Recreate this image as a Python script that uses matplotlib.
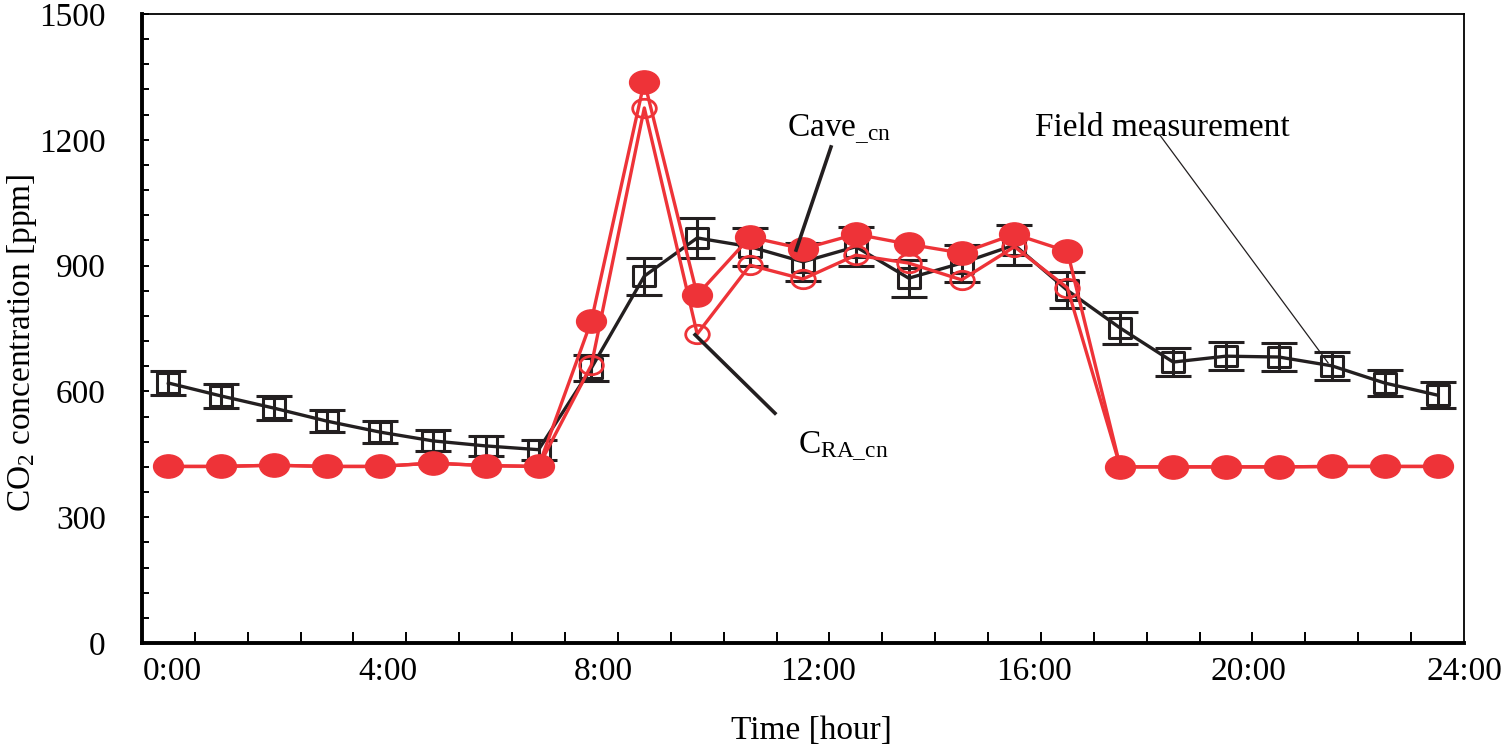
"""
CO2 concentration over one day: field measurement vs. two model results
"""

import matplotlib
matplotlib.use("Agg")
import matplotlib.pyplot as plt
from matplotlib.path import Path
from matplotlib.transforms import Affine2D
from matplotlib.ticker import FixedLocator, MultipleLocator

plt.rcParams["font.family"] = ["Liberation Serif", "DejaVu Serif"]
plt.rcParams["mathtext.fontset"] = "custom"
plt.rcParams["mathtext.rm"] = "Liberation Serif"
plt.rcParams["mathtext.it"] = "Liberation Serif:italic"

# data
hours = list(range(25))
field = [620, 589, 560, 529, 503, 482, 470, 461, 656, 875, 966, 945, 909,
         945, 870, 906, 949, 841, 751, 670, 684, 682, 661, 620, 591]
field_err = [29, 29, 28, 27, 26, 25, 24, 24, 31, 44, 48, 45, 45,
             46, 44, 44, 47, 43, 38, 34, 34, 34, 33, 32, 31]
cave_cn = [421, 421, 424, 421, 421, 429, 423, 421, 769, 1339, 830, 968, 940,
           975, 951, 930, 975, 934, 420, 420, 420, 420, 421, 421, 421]
c_ra_cn = [421, 421, 424, 421, 421, 429, 423, 421, 663, 1276, 737, 901, 868,
           925, 906, 866, 945, 847, 420, 420, 420, 420, 421, 421, 421]

x_labels = ["0:00", "4:00", "8:00", "12:00", "16:00", "20:00", "24:00"]
x_label_pos = [0.08, 4.15, 8.22, 12.29, 16.36, 20.43, 24.5]

RED = "#ee3338"
BLACK = "#231f20"

# slightly flattened markers like the original
ellipse = Path.unit_circle().transformed(Affine2D().scale(1.0, 0.78))
rect = Path([(-1, -0.87), (1, -0.87), (1, 0.87), (-1, 0.87), (-1, -0.87)],
            [Path.MOVETO, Path.LINETO, Path.LINETO, Path.LINETO, Path.CLOSEPOLY])

fig = plt.figure(figsize=(15.02, 7.5), dpi=100)
ax = fig.add_axes([0.0945, 0.1427, 0.8802, 0.8386])

# field measurement with error bars
ax.errorbar(hours, field, yerr=field_err, color=BLACK, lw=2.4,
            marker=rect, ms=16, mfc="none", mec=BLACK, mew=2.2,
            ecolor=BLACK, elinewidth=2.2, capsize=13, capthick=3.2, zorder=2)

# C_RA_cn: open circles
ax.plot(hours, c_ra_cn, color=RED, lw=2.4, marker=ellipse, ms=17,
        mfc="none", mec=RED, mew=2.0, zorder=3)

# Cave_cn: filled circles
ax.plot(hours, cave_cn, color=RED, lw=2.4, marker=ellipse, ms=21.5,
        mfc=RED, mec=RED, zorder=4)

ax.set_xlim(-0.5, 24.5)
ax.set_ylim(0, 1500)

ax.xaxis.set_major_locator(FixedLocator(x_label_pos))
ax.set_xticklabels(x_labels)
ax.xaxis.set_minor_locator(FixedLocator([h + 0.5 for h in range(24)]))
ax.tick_params(axis="x", which="major", length=0, pad=10, labelsize=24)
ax.tick_params(axis="x", which="minor", direction="in", length=8, width=1.4)

ax.yaxis.set_major_locator(MultipleLocator(300))
ax.yaxis.set_minor_locator(MultipleLocator(60))
ax.tick_params(axis="y", which="both", direction="in", length=5, width=1.4)
ax.tick_params(axis="y", which="major", pad=26, labelsize=24)

for side in ["left", "bottom"]:
    ax.spines[side].set_linewidth(2.8)
for side in ["top", "right"]:
    ax.spines[side].set_linewidth(1.3)

fig.text(0.0146, 0.543, "CO$_2$ concentration [ppm]", rotation=90,
         ha="center", va="center", fontsize=24)
fig.text(0.540, 0.0147, "Time [hour]", ha="center", va="baseline", fontsize=24)

# labels with leader lines
ax.text(11.70, 1209, r"Cave$_{\_\mathrm{cn}}$", fontsize=24, va="baseline")
ax.plot([12.53, 11.87], [1183, 937], color=BLACK, lw=2.6, zorder=5)

ax.text(11.91, 453, r"C$_{\mathrm{RA\_cn}}$", fontsize=24, va="baseline")
ax.plot([9.96, 11.47], [735, 548], color=BLACK, lw=2.6, zorder=5)

ax.text(16.39, 1208, "Field measurement", fontsize=24, va="baseline")
ax.plot([18.75, 21.93], [1211, 668], color=BLACK, lw=0.9, zorder=5)

plt.savefig("out.png", dpi=100)
